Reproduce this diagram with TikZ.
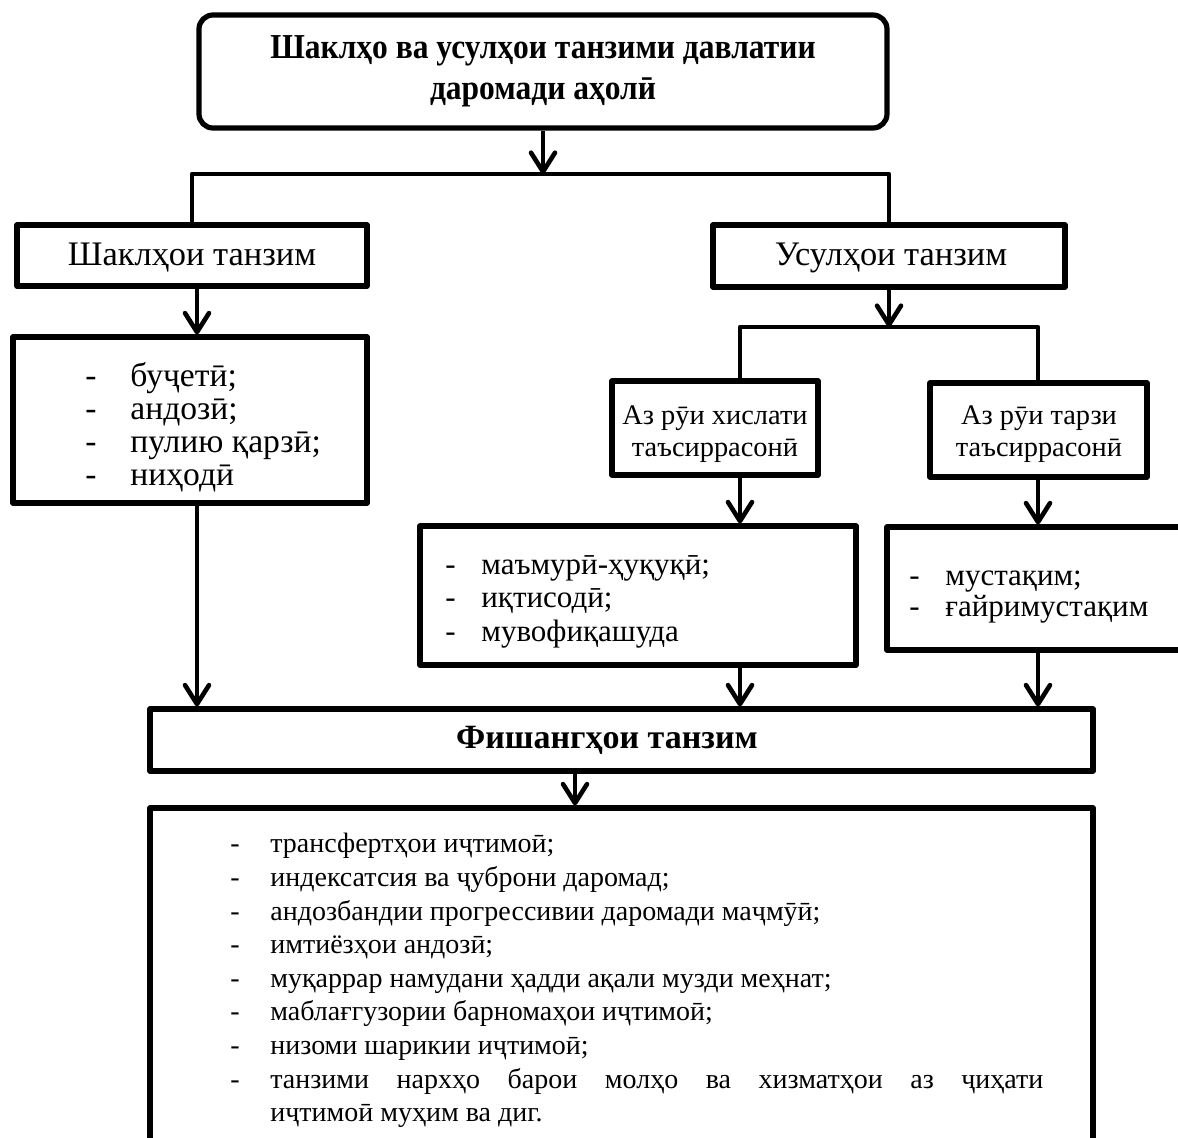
\documentclass[tikz,border=0pt]{standalone}
\usepackage{fontspec}
\setmainfont{Liberation Serif}
\usetikzlibrary{arrows.meta}
\newcommand\dashitem[2]{\makebox[#1][l]{-}#2}
\begin{document}
\begin{tikzpicture}[x=0.5pt,y=-0.5pt,
  box/.style={draw, line width=2.6pt, line join=round, inner sep=0pt, align=center},
  conn/.style={line width=2.3pt, line join=round},
  arr/.style={conn, -{Straight Barb[length=9.5pt,width=12pt,line cap=round,line join=round]}},
  big/.style={font=\fontsize{17.2}{19}\selectfont},
  mid/.style={font=\fontsize{14.2}{16}\selectfont},
  lst/.style={inner sep=0pt, align=left, anchor=north west},
]
\useasboundingbox (0,0) rectangle (1178,1137);

% boxes
\node[box, rounded corners=7pt, minimum width=344pt, minimum height=56.5pt,
      font=\bfseries\fontsize{17.5}{20.5}\selectfont] (top) at (543,71.5)
      {\scalebox{0.9}[1]{Шаклҳо ва усулҳои танзими давлатии}\\\scalebox{0.9}[1]{даромади аҳолӣ}};
\node[box, big, minimum width=175pt, minimum height=30.5pt] (sh) at (192,255.5) {};
\node[box, big, minimum width=176pt, minimum height=31pt] (us) at (889,256) {};
\node[inner sep=0pt, big] (sht) at (192,258) {Шаклҳои танзим};
\node[inner sep=0pt, big] (ust) at (891,258) {Усулҳои танзим};
\node[box, minimum width=177pt, minimum height=83pt] (lst) at (190,420) {};
\node[box, mid, minimum width=103pt, minimum height=47pt] (bx) at (715,428) {};
\node[box, mid, minimum width=108.5pt, minimum height=47pt] (bt) at (1038.5,430) {};
\node[inner sep=0pt, mid, align=center] (bxt) at (715,434) {Аз рӯи хислати\\таъсиррасонӣ};
\node[inner sep=0pt, mid, align=center] (btt) at (1039,434) {Аз рӯи тарзи\\таъсиррасонӣ};
\node[box, minimum width=218pt, minimum height=69.5pt] (bm) at (638,595.5) {};
\node[box, minimum width=156.5pt, minimum height=61.5pt] (bms) at (1043.5,588.5) {};
\node[box, minimum width=471.5pt, minimum height=31pt] (fish) at (621.5,740) {};
\node[inner sep=0pt, font=\bfseries\fontsize{17}{19}\selectfont] (fisht) at (607,740) {Фишангҳои танзим};
\node[box, minimum width=471.5pt, minimum height=186pt] (bot) at (621.5,994) {};

% list texts
\node[lst, font=\fontsize{16.8}{16.5}\selectfont] (lsttxt) at (85,362) {%
  \dashitem{22.5pt}{буҷетӣ;}\\
  \dashitem{22.5pt}{андозӣ;}\\
  \dashitem{22.5pt}{пулию қарзӣ;}\\
  \dashitem{22.5pt}{ниҳодӣ}};
\node[lst, font=\fontsize{15.5}{16.75}\selectfont] (bmtxt) at (445,555) {%
  \dashitem{18pt}{маъмурӣ-ҳуқуқӣ;}\\
  \dashitem{18pt}{иқтисодӣ;}\\
  \dashitem{18pt}{мувофиқашуда}};
\node[lst, font=\fontsize{15.5}{15.5}\selectfont] (bmstxt) at (909,570) {%
  \dashitem{18pt}{мустақим;}\\
  \dashitem{18pt}{ғайримустақим}};
\node[lst, font=\fontsize{14}{16.8}\selectfont] (bottxt) at (230,833) {%
  \dashitem{20pt}{трансфертҳои иҷтимоӣ;}\\
  \dashitem{20pt}{индексатсия ва ҷуброни даромад;}\\
  \dashitem{20pt}{андозбандии прогрессивии даромади маҷмӯӣ;}\\
  \dashitem{20pt}{имтиёзҳои андозӣ;}\\
  \dashitem{20pt}{муқаррар намудани ҳадди ақали музди меҳнат;}\\
  \dashitem{20pt}{маблағгузории барномаҳои иҷтимоӣ;}\\
  \dashitem{20pt}{низоми шарикии иҷтимоӣ;}\\
  \dashitem{20pt}{\makebox[386.5pt][s]{танзими нархҳо барои молҳо ва хизматҳои аз ҷиҳати}}\\
  \hspace*{20pt}иҷтимоӣ муҳим ва диг.};

% helper coordinates
\coordinate (j1) at (543,174);
\coordinate (j2) at (889,327);
\coordinate (cxl) at (740,327);
\coordinate (cxr) at (1038,327);
\coordinate (cl) at (197,0);
\coordinate (cf) at (575,0);

% connectors
\draw[arr] (top.south) -- (j1);
\draw[conn] (sh.north) -- (sh.north |- j1) -- (us.north |- j1) -- (us.north);
\draw[arr] (sh.south -| cl) -- (lst.north -| cl);
\draw[arr] (us.south) -- (j2);
\draw[conn] (cxl |- bx.north) -- (cxl) -- (cxr) -- (cxr |- bt.north);
\draw[arr] (cxl |- bx.south) -- (cxl |- bm.north);
\draw[arr] (cxr |- bt.south) -- (cxr |- bms.north);
\draw[arr] (lst.south -| cl) -- (fish.north -| cl);
\draw[arr] (cxl |- bm.south) -- (cxl |- fish.north);
\draw[arr] (cxr |- bms.south) -- (cxr |- fish.north);
\draw[arr] (fish.south -| cf) -- (bot.north -| cf);
\end{tikzpicture}
\end{document}
